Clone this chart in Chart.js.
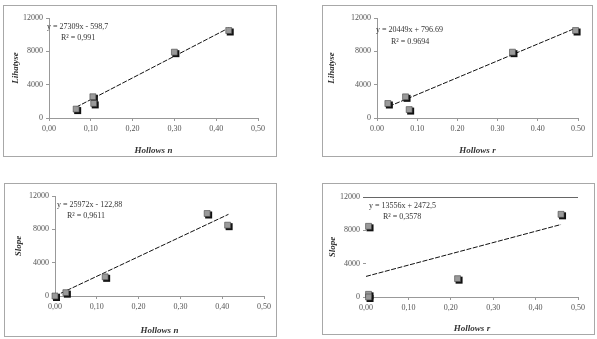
<!DOCTYPE html>
<html>
<head>
  <title>Hollows regressions</title>
  <script src="https://cdn.jsdelivr.net/npm/chart.js"></script>
  <style>
    body { margin: 0; background: #fff; width: 597px; height: 339px; position: relative; overflow: hidden; }
    .box { position: absolute; border: 1px solid #a8a8a8; box-sizing: border-box; }
    .box canvas { display: block; }
  </style>
</head>
<body>
  <div class="box" id="b1" style="left:3px;top:5px;width:274px;height:152px"><canvas id="c1"></canvas></div>
  <div class="box" id="b2" style="left:322px;top:5px;width:271px;height:152px"><canvas id="c2"></canvas></div>
  <div class="box" id="b3" style="left:4px;top:183px;width:273px;height:154px"><canvas id="c3"></canvas></div>
  <div class="box" id="b4" style="left:322px;top:183px;width:273px;height:152px"><canvas id="c4"></canvas></div>

  <script>
    // values
    const nX1 = [0.065, 0.105, 0.107, 0.30, 0.43];
    const nY1 = [1070, 2550, 1750, 7900, 10500];
    const trendX1 = [0.065, 0.43];
    const trendY1 = [1300, 10800];

    const rX2 = [0.027, 0.071, 0.08, 0.337, 0.494];
    const rY2 = [1740, 2540, 1010, 7900, 10500];
    const trendX2 = [0.03, 0.49];
    const trendY2 = [1400, 10700];

    const nX3 = [0.0, 0.026, 0.12, 0.364, 0.413];
    const nY3 = [0, 400, 2300, 9900, 8500];
    const trendX3 = [0.0, 0.415];
    const trendY3 = [0, 9800];

    const rX4 = [0.006, 0.006, 0.006, 0.216, 0.46];
    const rY4 = [8480, 320, 0, 2200, 9920];
    const trendX4 = [0.0, 0.46];
    const trendY4 = [2470, 8700];

    const xTicks = [0, 0.1, 0.2, 0.3, 0.4, 0.5];
    const yTicks = [0, 4000, 8000, 12000];

    const serif = '"Liberation Serif", "DejaVu Serif", serif';

    // grey square with a black one sitting behind it, like the excel marker
    const shadowMarks = {
      id: 'shadowMarks',
      beforeDatasetDraw(chart, args) {
        if (args.index !== 0) return;
        const ctx = chart.ctx;
        ctx.save();
        ctx.fillStyle = '#111';
        args.meta.data.forEach(pt => {
          ctx.fillRect(pt.x - 2, pt.y - 2, 7, 7);
        });
        ctx.restore();
      }
    };

    // top rule on the last panel, from the axis to the right end
    const topRule = {
      id: 'topRule',
      afterDraw(chart, args, opts) {
        if (!opts.on) return;
        const a = chart.chartArea, ctx = chart.ctx;
        ctx.save();
        ctx.strokeStyle = '#666';
        ctx.lineWidth = 1;
        ctx.beginPath();
        ctx.moveTo(a.left - 3, Math.round(a.top) + 0.5);
        ctx.lineTo(a.right, Math.round(a.top) + 0.5);
        ctx.stroke();
        ctx.restore();
      }
    };

    const eqText = {
      id: 'eqText',
      afterDraw(chart, args, opts) {
        const ctx = chart.ctx;
        const a = chart.chartArea;
        ctx.save();
        ctx.fillStyle = '#333';
        ctx.font = '8px ' + serif;
        ctx.textBaseline = 'middle';
        ctx.fillText(opts.eq, a.left + opts.dx1, a.top + opts.dy1);
        ctx.fillText(opts.r2, a.left + opts.dx2, a.top + opts.dy2);
        ctx.restore();
      }
    };

    function makeChart(id, xs, ys, tx, ty, cfg) {
      const w = cfg.w, h = cfg.h;
      const cv = document.getElementById(id);
      cv.width = w; cv.height = h;
      const fmt = v => cfg.dot ? v.toFixed(2) : v.toFixed(2).replace('.', ',');
      return new Chart(cv, {
        type: 'scatter',
        data: {
          datasets: [
            {
              data: xs.map((x, i) => ({ x, y: ys[i] })),
              pointStyle: 'rect',
              pointRadius: 4.2,
              backgroundColor: '#9a9a9a',
              borderColor: '#444',
              borderWidth: 0.6,
              clip: false
            },
            {
              type: 'line',
              data: tx.map((x, i) => ({ x, y: ty[i] })),
              borderColor: '#111',
              borderWidth: 1,
              borderDash: [5, 1.5],
              pointRadius: 0,
              clip: false
            }
          ]
        },
        options: {
          responsive: false,
          animation: false,
          layout: { padding: { top: cfg.top, right: cfg.right, left: 0, bottom: 0 } },
          plugins: {
            legend: { display: false },
            tooltip: { enabled: false },
            eqText: cfg.text,
            topRule: { on: !!cfg.topLine }
          },
          scales: {
            x: {
              type: 'linear', min: 0, max: 0.5,
              afterBuildTicks: s => { s.ticks = xTicks.map(v => ({ value: v })); },
              afterFit: s => { s.height = cfg.xh; },
              grid: { display: true, drawOnChartArea: false, tickLength: 3, color: '#999' },
              border: { color: '#999', width: 1 },
              ticks: { callback: fmt, color: '#555', font: { family: serif, size: 8 }, padding: 3, maxRotation: 0 },
              title: { display: true, text: cfg.xTitle, color: '#333', padding: { top: 4, bottom: 0 },
                       font: { family: serif, size: 9, style: 'italic', weight: 'bold' } }
            },
            y: {
              type: 'linear', min: 0, max: 12000,
              afterBuildTicks: s => { s.ticks = yTicks.map(v => ({ value: v })); },
              afterFit: s => { s.width = cfg.yw; },
              grid: { display: true, drawOnChartArea: false, tickLength: 3, color: '#999' },
              border: { color: cfg.yBorder || '#999', width: 1 },
              ticks: { callback: v => String(v), color: '#555', font: { family: serif, size: 8 }, padding: 3 },
              title: { display: true, text: cfg.yTitle, color: '#333', padding: { top: cfg.ytp, bottom: 4 },
                       font: { family: serif, size: 9, style: 'italic', weight: 'bold' } }
            }
          }
        },
        plugins: [shadowMarks, eqText, topRule]
      });
    }

    makeChart('c1', nX1, nY1, trendX1, trendY1, {
      w: 272, h: 150, top: 12, right: 18, xh: 38, yw: 45, ytp: 6,
      xTitle: 'Hollows n', yTitle: 'Lihatyse',
      text: { eq: 'y = 27309x - 598,7', r2: 'R\u00b2 = 0,991', dx1: -2, dy1: 9, dx2: 12, dy2: 20 }
    });
    makeChart('c2', rX2, rY2, trendX2, trendY2, {
      w: 269, h: 150, top: 12, right: 14, xh: 38, yw: 54, ytp: 3, dot: true,
      xTitle: 'Hollows r', yTitle: 'Lihatyse',
      text: { eq: 'y = 20449x + 796.69', r2: 'R\u00b2 = 0.9694', dx1: -1, dy1: 12, dx2: 14, dy2: 24 }
    });
    makeChart('c3', nX3, nY3, trendX3, trendY3, {
      w: 271, h: 152, top: 12, right: 12, xh: 40, yw: 50, ytp: 8,
      xTitle: 'Hollows n', yTitle: 'Slope',
      text: { eq: 'y = 25972x - 122,88', r2: 'R\u00b2 = 0,9611', dx1: 2, dy1: 9, dx2: 12, dy2: 20 }
    });
    makeChart('c4', rX4, rY4, trendX4, trendY4, {
      w: 271, h: 150, top: 13, right: 16, xh: 37, yw: 43, ytp: 4, topLine: true, yBorder: 'rgba(0,0,0,0)',
      xTitle: 'Hollows r', yTitle: 'Slope',
      text: { eq: 'y = 13556x + 2472,5', r2: 'R\u00b2 = 0,3578', dx1: 3, dy1: 9, dx2: 17, dy2: 20 }
    });
  </script>
</body>
</html>
